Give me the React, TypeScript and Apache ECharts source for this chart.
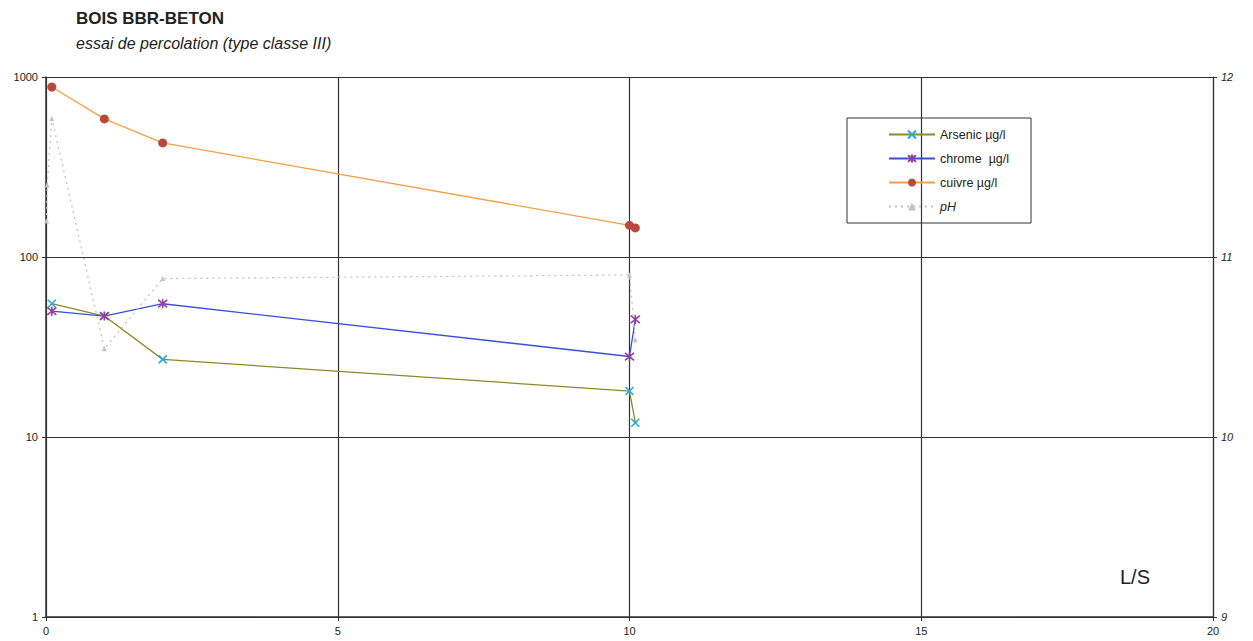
import React, { useEffect, useRef } from "react";
import * as echarts from "echarts";

const arsenicData: [number, number][] = [[0.1, 55], [1, 47], [2, 27], [10, 18], [10.1, 12]];
const chromeData: [number, number][] = [[0.1, 50], [1, 47], [2, 55], [10, 28], [10.1, 45]];
const cuivreData: [number, number][] = [[0.1, 880], [1, 585], [2, 430], [10, 150], [10.1, 145]];
const phData: [number, number][] = [[0.01, 11.2], [0.02, 11.4], [0.1, 11.77], [1, 10.49], [2, 10.88], [10, 10.9], [10.1, 10.54]];

const seriesNames = ["Arsenic µg/l", "chrome  µg/l", "cuivre µg/l", "pH"];

const X_SYMBOL = "path://M0,0L10,10M10,0L0,10";
const STAR_SYMBOL = "path://M0,0L10,10M10,0L0,10M5,-1L5,11";

export default function App() {
  const ref = useRef<HTMLDivElement>(null);
  useEffect(() => {
    if (!ref.current) return;
    const chart = echarts.init(ref.current, null, { renderer: "svg" });
    const font = "'Liberation Sans', Arial, sans-serif";
    chart.setOption({
      animation: false,
      backgroundColor: "#fff",
      textStyle: { fontFamily: font },
      title: {
        text: "BOIS BBR-BETON",
        subtext: "essai de percolation (type classe III)",
        left: 68,
        top: 2,
        padding: 0,
        itemGap: 8,
        textStyle: { fontFamily: font, fontSize: 17, fontWeight: "bold", color: "#222" },
        subtextStyle: { fontFamily: font, fontSize: 16, fontStyle: "italic", color: "#222" },
      },
      legend: {
        orient: "vertical",
        left: 839,
        top: 110,
        padding: [10, 22, 10, 41],
        itemWidth: 46,
        itemHeight: 10,
        itemGap: 11,
        borderColor: "#333",
        borderWidth: 1,
        borderRadius: 0,
        textStyle: { fontFamily: font, fontSize: 12.5, color: "#222" },
        data: [
          { name: seriesNames[0] },
          { name: seriesNames[1] },
          { name: seriesNames[2] },
          { name: seriesNames[3], textStyle: { fontStyle: "italic" } },
        ],
      },
      grid: { left: 38, right: 40, top: 69, bottom: 24, containLabel: false },
      xAxis: {
        type: "value",
        min: 0,
        max: 20,
        interval: 5,
        axisLine: { lineStyle: { color: "#333", width: 1.5 } },
        axisTick: { show: true, length: 4, lineStyle: { color: "#333" } },
        axisLabel: { fontSize: 11, color: "#222", margin: 8 },
        splitLine: { show: true, lineStyle: { color: "#333", width: 1.2 } },
      },
      yAxis: [
        {
          type: "log",
          logBase: 10,
          min: 1,
          max: 1000,
          axisLine: { show: true, lineStyle: { color: "#333", width: 1.5 } },
          axisTick: { show: true, length: 4, lineStyle: { color: "#333" } },
          axisLabel: { fontSize: 11, color: "#222", margin: 8, formatter: (v: number) => String(Math.round(v)) },
          splitLine: { show: true, lineStyle: { color: "#333", width: 1.2 } },
          minorTick: { show: false },
        },
        {
          type: "value",
          min: 9,
          max: 12,
          interval: 1,
          position: "right",
          axisLine: { show: true, lineStyle: { color: "#333", width: 1.2 } },
          axisTick: { show: true, length: 4, lineStyle: { color: "#333" } },
          axisLabel: { fontSize: 11, fontStyle: "italic", color: "#222", margin: 8 },
          splitLine: { show: false },
        },
      ],
      graphic: [
        {
          type: "text",
          left: 1112,
          top: 559,
          style: { text: "L/S", fontFamily: font, fontSize: 20, fill: "#222" },
        },
      ],
      series: [
        {
          name: seriesNames[0],
          type: "line",
          yAxisIndex: 0,
          data: arsenicData,
          symbol: X_SYMBOL,
          symbolSize: 8,
          lineStyle: { color: "#8a8a2a", width: 1.3 },
          itemStyle: { color: "#2aa7e0", borderColor: "#2aa7e0", borderWidth: 1.6 },
        },
        {
          name: seriesNames[1],
          type: "line",
          yAxisIndex: 0,
          data: chromeData,
          symbol: STAR_SYMBOL,
          symbolSize: 9,
          lineStyle: { color: "#3a4fd8", width: 1.3 },
          itemStyle: { color: "#9a3c9e", borderColor: "#9a3c9e", borderWidth: 1.6 },
        },
        {
          name: seriesNames[2],
          type: "line",
          yAxisIndex: 0,
          data: cuivreData,
          symbol: "circle",
          symbolSize: 9,
          lineStyle: { color: "#f5a045", width: 1.3 },
          itemStyle: { color: "#b8493c", borderColor: "#b8493c", borderWidth: 0 },
        },
        {
          name: seriesNames[3],
          type: "line",
          yAxisIndex: 1,
          data: phData,
          symbol: "triangle",
          symbolSize: 5,
          lineStyle: { color: "#c4c4c4", width: 1.3, type: [2, 4] },
          itemStyle: { color: "#c4c4c4" },
        },
      ],
    });
    return () => chart.dispose();
  }, []);
  return <div ref={ref} style={{ width: 1245, height: 633 }} />;
}
